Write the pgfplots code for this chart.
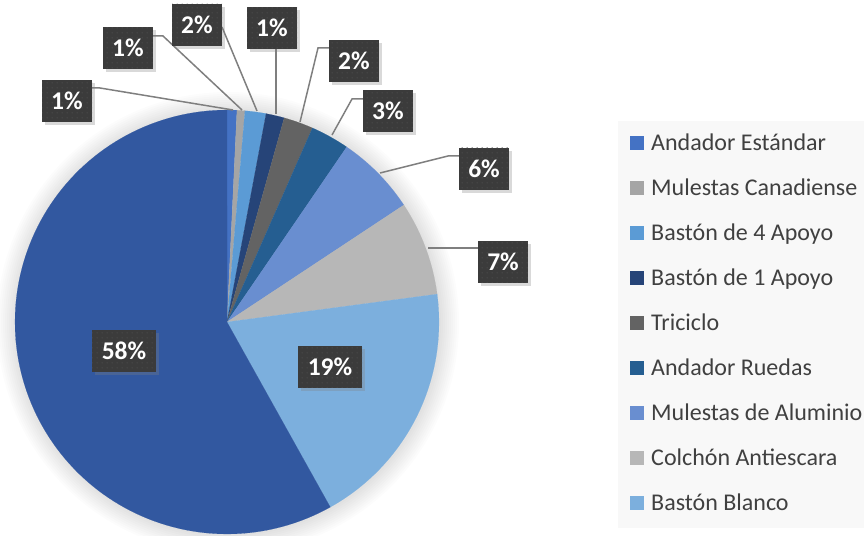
\documentclass[border=0pt]{standalone}
\usepackage{pgfplots}
\pgfplotsset{compat=1.18}
\usepackage{pgfplotstable}
\usepackage{fontspec}
\setmainfont{Carlito}
\usetikzlibrary{shadows,patterns.meta}

\definecolor{col0}{HTML}{4472C4}
\definecolor{col1}{HTML}{A5A5A5}
\definecolor{col2}{HTML}{5B9BD5}
\definecolor{col3}{HTML}{264478}
\definecolor{col4}{HTML}{636363}
\definecolor{col5}{HTML}{255E91}
\definecolor{col6}{HTML}{698ED0}
\definecolor{col7}{HTML}{B7B7B7}
\definecolor{col8}{HTML}{7CAFDD}
\definecolor{col9}{HTML}{3258A0}
\definecolor{boxc}{HTML}{3B3B3B}
\definecolor{boxdot}{HTML}{4E4E4E}
\definecolor{leader}{HTML}{7F7F7F}
\definecolor{legtext}{HTML}{404040}
\definecolor{legbg}{HTML}{F8F8F8}

\tikzdeclarepattern{
  name=boxdots, type=uncolored,
  bounding box={(0pt,0pt) and (5pt,5pt)},
  tile size={(5pt,5pt)},
  code={\pgfpathcircle{\pgfpoint{2.5pt}{2.5pt}}{0.75pt}\pgfusepath{fill}}
}

\pgfplotstableread[col sep=comma]{
label,value
Andador Estándar,0.75
Mulestas Canadiense,0.6
Bastón de 4 Apoyo,1.6
Bastón de 1 Apoyo,1.4
Triciclo,2.25
Andador Ruedas,2.95
Mulestas de Aluminio,6.15
Colchón Antiescara,7.2
Bastón Blanco,19.0
Otros,58.1
}\piedata

\tikzset{lbl/.style={fill=boxc, text=white, font=\bfseries\fontsize{25.5}{30}\selectfont,
  minimum height=42pt, inner xsep=0pt, inner ysep=0pt,
  drop shadow={shadow xshift=2.5pt, shadow yshift=-3pt, opacity=0.3},
  postaction={pattern=boxdots, pattern color=boxdot}}}

\begin{document}
\begin{tikzpicture}
% soft shadow around the pie
\foreach \k in {1,3,...,19}{\fill[black,opacity=0.011] (228pt,212pt) circle[radius={212pt+\k pt}];}
\begin{axis}[
  at={(0pt,0pt)}, anchor=origin,
  x=1pt, y=1pt, xmin=0, xmax=864, ymin=0, ymax=535,
  hide axis, clip=false,
  legend style={at={(0.71528,0.77383)}, anchor=north west, fill=legbg, draw=none,
     font=\fontsize{24}{28}\selectfont, text=legtext,
     inner xsep=12pt, inner ysep=12.5pt, row sep=23pt, column sep=7pt,
     nodes={inner sep=0pt, text height=17pt, text depth=5pt}},
  legend cell align=left,
  legend image code/.code={\fill[#1,draw=none] (0pt,-5.3pt) rectangle (14pt,8.7pt);},
]
\def\cum{0}
\pgfplotsforeachungrouped \i in {0,...,9}{%
  \pgfplotstablegetelem{\i}{value}\of\piedata \let\val\pgfplotsretval
  \pgfplotstablegetelem{\i}{label}\of\piedata \let\lab\pgfplotsretval
  \pgfmathsetmacro\sa{3.6*\cum}%
  \pgfmathsetmacro\cum{\cum+\val}%
  \pgfmathsetmacro\ea{3.6*\cum}%
  \ifnum\i<9
    \edef\tmp{\noexpand\addplot[fill=col\i, draw=col\i, line width=0.1pt, domain=\sa:\ea, samples=50] ({227+212*sin(x)},{213+212*cos(x)}) -- (axis cs:227,213) -- cycle; \noexpand\addlegendentry{\lab}}%
  \else
    \edef\tmp{\noexpand\addplot[fill=col\i, draw=col\i, line width=0.1pt, domain=\sa:\ea, samples=120, forget plot] ({227+212*sin(x)},{213+212*cos(x)}) -- (axis cs:227,213) -- cycle;}%
  \fi
  \tmp
}
% leader lines
\addplot[leader, line width=1.5pt, forget plot] coordinates {(92,447) (100,447) (233,425)};
\addplot[leader, line width=1.5pt, forget plot] coordinates {(153,499) (163,499) (242,425)};
\addplot[leader, line width=1.5pt, forget plot] coordinates {(222,508) (257,424)};
\addplot[leader, line width=1.5pt, forget plot] coordinates {(276,486) (276,421)};
\addplot[leader, line width=1.5pt, forget plot] coordinates {(329,487) (318,487) (300,413)};
\addplot[leader, line width=1.5pt, forget plot] coordinates {(363,436) (352,436) (332,400)};
\addplot[leader, line width=1.5pt, forget plot] coordinates {(459,379) (448,379) (380,362)};
\addplot[leader, line width=1.5pt, forget plot] coordinates {(428,287) (479,287)};
\end{axis}
% data labels
\node[lbl, minimum width=50pt] at (67pt,434pt) {1\%};
\node[lbl, minimum width=50pt] at (128pt,487pt) {1\%};
\node[lbl, minimum width=50pt] at (197pt,510pt) {2\%};
\node[lbl, minimum width=50pt] at (272pt,507pt) {1\%};
\node[lbl, minimum width=50pt] at (354pt,474pt) {2\%};
\node[lbl, minimum width=50pt] at (388pt,424pt) {3\%};
\node[lbl, minimum width=50pt] at (484pt,366pt) {6\%};
\node[lbl, minimum width=50pt] at (503pt,273pt) {7\%};
\node[lbl, minimum width=64pt] at (330pt,168pt) {19\%};
\node[lbl, minimum width=64pt] at (124pt,184pt) {58\%};
\pgfresetboundingbox
\path[use as bounding box] (0pt,0pt) rectangle (864pt,535pt);
\end{tikzpicture}
\end{document}
